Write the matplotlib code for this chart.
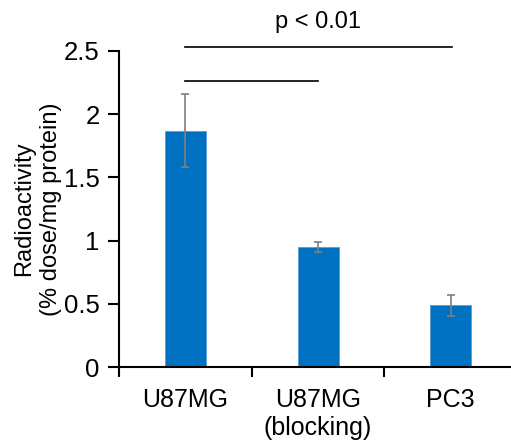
import matplotlib.pyplot as plt
import numpy as np

plt.rcParams['font.family'] = ['Liberation Sans', 'DejaVu Sans']

# Datos
categories = ["U87MG", "U87MG\n(blocking)", "PC3"]
values = [1.87, 0.95, 0.49]
errors = [0.285, 0.043, 0.082]

fig = plt.figure(figsize=(5.11, 4.45), dpi=100)
ax = fig.add_axes([0.233, 0.1746, 0.779, 0.7114])

x = np.arange(len(categories))
ax.bar(x, values, width=0.31, color="#0070C0", edgecolor="#5B9BD5", linewidth=0.6)
ax.errorbar(x, values, yerr=errors, fmt="none", ecolor="#7F7F7F", elinewidth=1.2,
            capsize=3, capthick=1.2)

ax.set_xlim(-0.5, 2.5)
ax.set_ylim(0, 2.5)
ax.set_yticks([0, 0.5, 1, 1.5, 2, 2.5])
ax.set_yticklabels(["0", "0.5", "1", "1.5", "2", "2.5"], fontsize=18.5)

# etiquetas centradas, marcas en los bordes de cada categoria
ax.set_xticks(x)
ax.set_xticklabels(categories, fontsize=18, linespacing=1.2)
ax.tick_params(axis="x", which="major", length=0, pad=15)
ax.set_xticks([-0.5, 0.5, 1.5], minor=True)
ax.tick_params(axis="x", which="minor", length=7, width=1.5, direction="out")
ax.tick_params(axis="y", length=8, width=1.5, direction="out", pad=6)

for side in ["top", "right"]:
    ax.spines[side].set_visible(False)
for side in ["left", "bottom"]:
    ax.spines[side].set_linewidth(1.5)

ax.set_ylabel("Radioactivity\n(% dose/mg protein)", fontsize=17, labelpad=1,
              linespacing=1.28)

# Lineas de significancia
ax.plot([0, 2.01], [2.53, 2.53], color="black", linewidth=1.2, clip_on=False)
ax.plot([0, 1.0], [2.26, 2.26], color="black", linewidth=1.2, clip_on=False)
ax.text(1.0, 2.73, "p < 0.01", ha="center", va="center", fontsize=17)

fig.savefig("out.png", dpi=100)
